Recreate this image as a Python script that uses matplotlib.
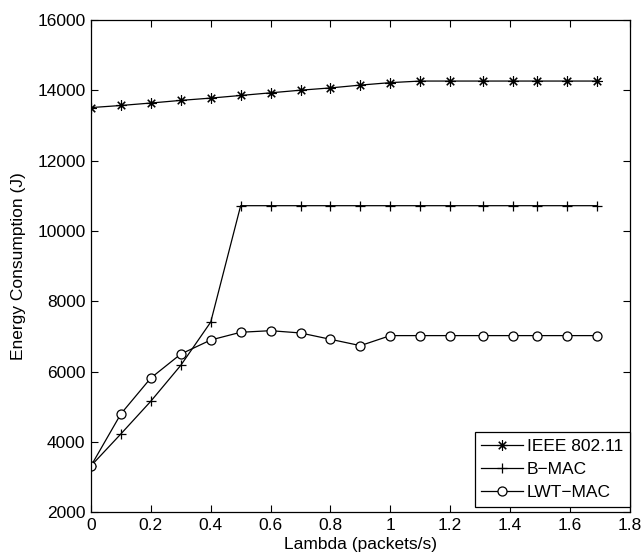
import matplotlib
matplotlib.use("Agg")
import matplotlib.pyplot as plt

plt.rcParams['font.family'] = ['Liberation Sans', 'DejaVu Sans']

# Arrival rate (packets/s)
lam = [0.0, 0.1, 0.2, 0.3, 0.4, 0.5, 0.6, 0.7, 0.8, 0.9, 1.0, 1.1, 1.2,
       1.31, 1.41, 1.49, 1.59, 1.69]

# Energy consumption (J)
ieee_80211 = [13510, 13570, 13640, 13715, 13780, 13855, 13930, 14005, 14070,
              14150, 14220, 14265, 14265, 14265, 14265, 14265, 14265, 14265]
b_mac = [3320, 4230, 5160, 6180, 7410, 10720, 10720, 10720, 10720, 10720,
         10720, 10720, 10720, 10720, 10720, 10720, 10720, 10720]
lwt_mac = [3320, 4800, 5820, 6500, 6900, 7120, 7165, 7100, 6920, 6740,
           7025, 7025, 7025, 7025, 7025, 7025, 7025, 7025]

series_names = ['IEEE 802.11', 'B\u2212MAC', 'LWT\u2212MAC']

fig = plt.figure(figsize=(6.43, 5.60), dpi=100)
ax = fig.add_axes([0.1415, 0.0852, 0.838, 0.879])

asterisk = (8, 2, 0)
ax.plot(lam, ieee_80211, color='black', lw=0.9, marker=asterisk, ms=7.5,
        mec='black', mew=0.8, label=series_names[0])
ax.plot(lam, b_mac, color='black', lw=0.9, marker='+', ms=7,
        mew=0.9, label=series_names[1])
ax.plot(lam, lwt_mac, color='black', lw=0.9, marker='o', ms=6.5,
        mfc='white', mec='black', mew=0.9, label=series_names[2])

ax.set_xlim(0, 1.8)
ax.set_ylim(2000, 16000)
ax.set_xticks([0, 0.2, 0.4, 0.6, 0.8, 1.0, 1.2, 1.4, 1.6, 1.8])
ax.set_xticklabels(['0', '0.2', '0.4', '0.6', '0.8', '1', '1.2', '1.4', '1.6', '1.8'])
ax.set_yticks(range(2000, 16001, 2000))

ax.tick_params(direction='in', top=True, right=True, length=5, width=0.8,
               labelsize=12.5, pad=4)
for s in ax.spines.values():
    s.set_linewidth(0.9)

ax.set_xlabel('Lambda (packets/s)', fontsize=12.5, labelpad=3)
ax.set_ylabel('Energy Consumption (J)', fontsize=12.5, labelpad=8)

leg = ax.legend(loc='lower right', bbox_to_anchor=(1.0, 0.01), fontsize=12.5,
                frameon=True, fancybox=False, edgecolor='black', framealpha=1,
                handlelength=2.4, borderpad=0.4, labelspacing=0.45,
                handletextpad=0.2, borderaxespad=0.0)
leg.get_frame().set_linewidth(0.9)

fig.savefig('out.png', dpi=100)
